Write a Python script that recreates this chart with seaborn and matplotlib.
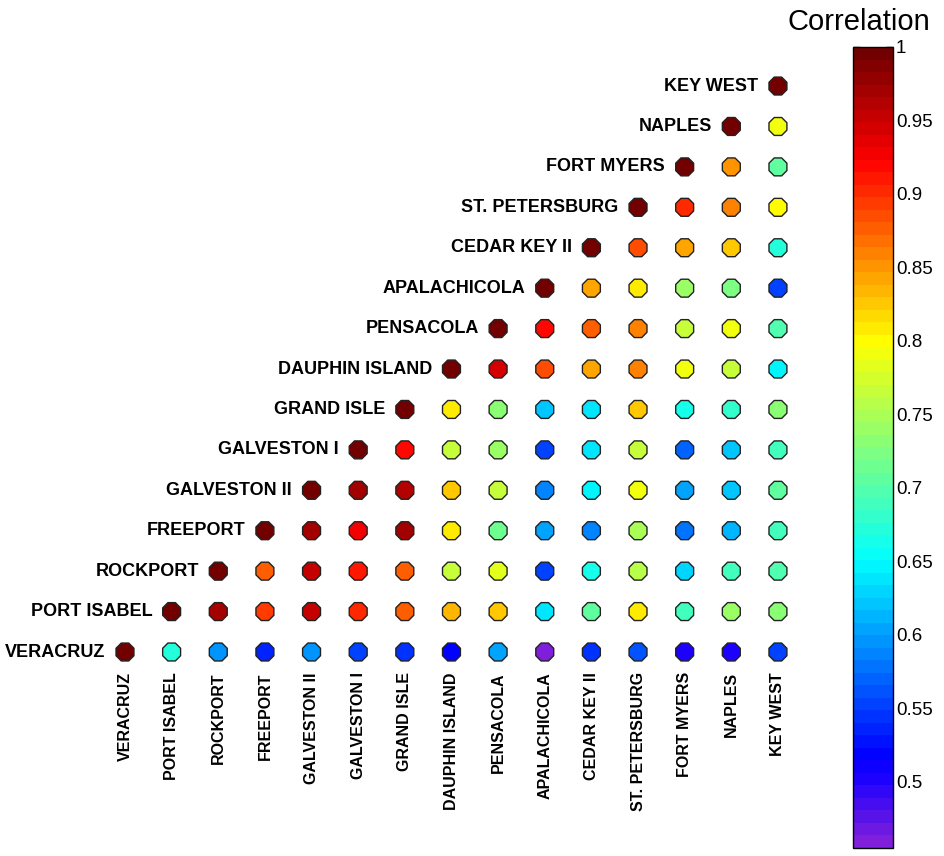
import matplotlib
matplotlib.use("Agg")
import matplotlib.pyplot as plt
from matplotlib.colors import LinearSegmentedColormap, Normalize
from matplotlib.cm import ScalarMappable
import numpy as np
import pandas as pd
import seaborn as sns

# Tide-gauge stations along the Gulf of Mexico coast, west to east
stations = ["VERACRUZ", "PORT ISABEL", "ROCKPORT", "FREEPORT", "GALVESTON II",
            "GALVESTON I", "GRAND ISLE", "DAUPHIN ISLAND", "PENSACOLA",
            "APALACHICOLA", "CEDAR KEY II", "ST. PETERSBURG", "FORT MYERS",
            "NAPLES", "KEY WEST"]

# Correlation of each station with itself and every station further east
veracruz       = [1.00, 0.672, 0.599, 0.535, 0.593, 0.555, 0.542, 0.515, 0.607, 0.46, 0.545, 0.56, 0.505, 0.505, 0.549]
port_isabel    = [1.00, 0.97, 0.89, 0.95, 0.906, 0.879, 0.835, 0.825, 0.64, 0.703, 0.81, 0.688, 0.743, 0.733]
rockport       = [1.00, 0.875, 0.952, 0.912, 0.875, 0.77, 0.782, 0.549, 0.66, 0.76, 0.63, 0.688, 0.695]
freeport       = [1.00, 0.97, 0.928, 0.966, 0.81, 0.715, 0.60, 0.589, 0.752, 0.576, 0.616, 0.688]
galveston_ii   = [1.00, 0.966, 0.959, 0.828, 0.77, 0.589, 0.643, 0.79, 0.603, 0.623, 0.705]
galveston_i    = [1.00, 0.916, 0.77, 0.74, 0.555, 0.636, 0.762, 0.572, 0.623, 0.688]
grand_isle     = [1.00, 0.81, 0.733, 0.623, 0.636, 0.825, 0.66, 0.68, 0.733]
dauphin_island = [1.00, 0.945, 0.881, 0.84, 0.86, 0.79, 0.762, 0.65]
pensacola      = [1.00, 0.916, 0.873, 0.862, 0.77, 0.79, 0.695]
apalachicola   = [1.00, 0.84, 0.81, 0.74, 0.72, 0.555]
cedar_key_ii   = [1.00, 0.884, 0.844, 0.825, 0.672]
st_petersburg  = [1.00, 0.90, 0.862, 0.80]
fort_myers     = [1.00, 0.85, 0.705]
naples         = [1.00, 0.79]
key_west       = [1.00]

rows = [veracruz, port_isabel, rockport, freeport, galveston_ii, galveston_i,
        grand_isle, dauphin_island, pensacola, apalachicola, cedar_key_ii,
        st_petersburg, fort_myers, naples, key_west]

cbar_ticks = [0.5, 0.55, 0.6, 0.65, 0.7, 0.75, 0.8, 0.85, 0.9, 0.95, 1.0]
vmin, vmax = 0.455, 1.0

# Long-form table: row i holds station i against stations i..14
records = []
for i, vals in enumerate(rows):
    for k, v in enumerate(vals):
        records.append({"col": i + k, "row": i, "corr": v})
df = pd.DataFrame(records)

# Jet-like scale ending in violet at the low end, 64 discrete levels
anchors = [(0.455, (0.50, 0.12, 0.86)),
           (0.50, (0.10, 0.00, 1.00)),
           (0.515, (0.00, 0.00, 1.00)),
           (0.65, (0.00, 1.00, 1.00)),
           (0.80, (1.00, 1.00, 0.00)),
           (0.925, (1.00, 0.00, 0.00)),
           (1.00, (0.45, 0.00, 0.00))]
cmap = LinearSegmentedColormap.from_list(
    "corr", [((v - vmin) / (vmax - vmin), c) for v, c in anchors], N=64)
norm = Normalize(vmin=vmin, vmax=vmax)

sns.set_theme(style="white")
plt.rcParams["font.family"] = ["Liberation Sans", "DejaVu Sans"]
plt.rcParams["text.color"] = "black"
plt.rcParams["xtick.color"] = "black"
plt.rcParams["ytick.color"] = "black"
plt.rcParams["axes.labelcolor"] = "black"

fig = plt.figure(figsize=(9.44, 8.56), dpi=100)
ax = fig.add_axes([0.1077, 0.2147, 0.7411, 0.7084])

sns.scatterplot(data=df, x="col", y="row", hue="corr", palette=cmap,
                hue_norm=norm, marker="8", s=195, edgecolor="#222222",
                linewidth=1.0, legend=False, ax=ax, zorder=3)

ax.set_xlim(-0.5, 14.5)
ax.set_ylim(-0.5, 14.5)
for sp in ax.spines.values():
    sp.set_visible(False)
ax.set_xlabel("")
ax.set_ylabel("")
ax.set_yticks([])
ax.set_xticks(range(len(stations)))
ax.set_xticklabels(stations, rotation=90, fontsize=11.5, fontweight="bold",
                   va="top", ha="center", color="black")
ax.tick_params(axis="x", length=0, pad=0)

# Station names next to the diagonal
for i, name in enumerate(stations):
    ax.annotate(name, xy=(i, i), xytext=(-14, 0), textcoords="offset points",
                ha="right", va="center", fontsize=13, fontweight="bold",
                color="black")

# Colour bar
cax = fig.add_axes([0.9036, 0.0094, 0.0424, 0.9357])
cb = fig.colorbar(ScalarMappable(norm=norm, cmap=cmap), cax=cax, ticks=cbar_ticks)
cb.ax.set_yticklabels([("%g" % t) for t in cbar_ticks])
cb.outline.set_edgecolor("black")
cb.outline.set_linewidth(1.0)
cb.ax.tick_params(direction="in", length=5, width=1, left=True, right=True,
                  labelleft=False, labelright=True, labelsize=13.5, pad=2,
                  colors="black")
fig.text(859 / 944, 1 - 22 / 856, "Correlation", fontsize=21,
         ha="center", va="center", color="black")

fig.savefig("out.png", dpi=100, facecolor="white")
